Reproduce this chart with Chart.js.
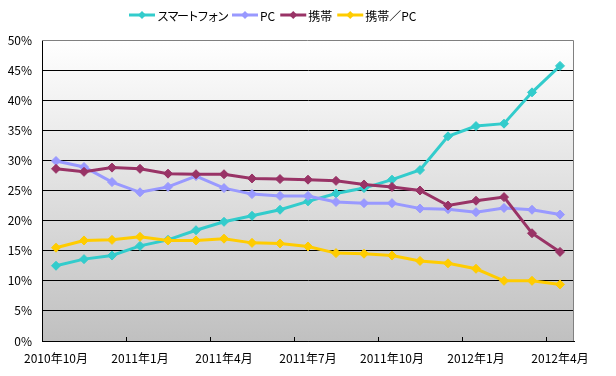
<!DOCTYPE html>
<html lang="ja">
<head>
<meta charset="UTF-8">
<title>スマートフォン・PC・携帯</title>
<script src="https://cdn.jsdelivr.net/npm/chart.js"></script>
<style>
  html, body { margin: 0; padding: 0; background: #fff; }
  .wrap { width: 616px; height: 376px; }
</style>
</head>
<body>
<div class="wrap"><canvas id="chart" width="616" height="376"></canvas></div>
<script>
// months, 2010/10 .. 2012/4
const months = [
  '2010年10月', '2010年11月', '2010年12月',
  '2011年1月', '2011年2月', '2011年3月', '2011年4月', '2011年5月', '2011年6月',
  '2011年7月', '2011年8月', '2011年9月', '2011年10月', '2011年11月', '2011年12月',
  '2012年1月', '2012年2月', '2012年3月', '2012年4月'
];

// percentages
const smartphone = [12.5, 13.6, 14.2, 15.8, 16.8, 18.4, 19.8, 20.8, 21.8, 23.2, 24.5, 25.4, 26.8, 28.4, 34.0, 35.7, 36.1, 41.3, 45.7];
const pc         = [29.9, 28.9, 26.4, 24.7, 25.6, 27.4, 25.4, 24.4, 24.1, 24.1, 23.1, 22.9, 22.9, 22.0, 21.9, 21.4, 22.1, 21.8, 21.0];
const keitai     = [28.6, 28.1, 28.8, 28.6, 27.8, 27.7, 27.7, 27.0, 26.9, 26.8, 26.6, 26.0, 25.6, 25.0, 22.5, 23.3, 23.9, 17.9, 14.8];
const keitaiPc   = [15.5, 16.7, 16.8, 17.3, 16.7, 16.7, 17.0, 16.3, 16.2, 15.7, 14.6, 14.5, 14.2, 13.3, 12.9, 12.0, 10.0, 10.0, 9.4];

const seriesNames  = ['スマートフォン', 'PC', '携帯', '携帯／PC'];
const seriesColors = ['#33CCCC', '#9999FF', '#993366', '#FFCC00'];

const FONT = "'Noto Sans CJK JP', 'Liberation Sans', sans-serif";
Chart.defaults.font.family = FONT;
Chart.defaults.font.size = 12;
Chart.defaults.color = '#000';

function makeSet(i, data) {
  return {
    label: seriesNames[i],
    data: data,
    borderColor: seriesColors[i],
    backgroundColor: seriesColors[i],
    borderWidth: 3,
    pointStyle: 'rectRot',
    pointRadius: 4.5,
    pointBorderWidth: 1,
    tension: 0,
    order: 3 - i   // later series on top, like the original
  };
}

// plot background + frame + inner tick marks + legend
const frame = {
  id: 'frame',
  beforeDraw(chart) {
    const { ctx, chartArea: a } = chart;
    const g = ctx.createLinearGradient(0, a.top, 0, a.bottom);
    g.addColorStop(0, '#ffffff');
    g.addColorStop(1, '#c0c0c0');
    ctx.save();
    ctx.fillStyle = g;
    ctx.fillRect(a.left, a.top, a.right - a.left, a.bottom - a.top);
    ctx.restore();
  },
  afterDraw(chart) {
    const { ctx, chartArea: a } = chart;
    const x = chart.scales.x;
    ctx.save();
    ctx.strokeStyle = '#808080';
    ctx.lineWidth = 1;
    ctx.beginPath();
    ctx.moveTo(a.left, a.top + 0.5);
    ctx.lineTo(a.right - 0.5, a.top + 0.5);
    ctx.lineTo(a.right - 0.5, a.bottom);
    ctx.stroke();

    const half = (x.getPixelForValue(1) - x.getPixelForValue(0)) / 2;
    ctx.strokeStyle = '#000';
    ctx.beginPath();
    for (let i = 3; i < months.length; i += 3) {
      const px = Math.round(x.getPixelForValue(i) - half) + 0.5;
      ctx.moveTo(px, a.bottom);
      ctx.lineTo(px, a.bottom - 4);
    }
    ctx.stroke();

    // legend
    ctx.font = '12px ' + FONT;
    ctx.textBaseline = 'middle';
    ctx.textAlign = 'left';
    let lx = 129;
    const ly = 15;
    seriesNames.forEach((name, i) => {
      ctx.strokeStyle = seriesColors[i];
      ctx.fillStyle = seriesColors[i];
      ctx.lineWidth = 3;
      ctx.beginPath();
      ctx.moveTo(lx, ly);
      ctx.lineTo(lx + 26, ly);
      ctx.stroke();
      const cx = lx + 13;
      ctx.beginPath();
      ctx.moveTo(cx, ly - 4);
      ctx.lineTo(cx + 4, ly);
      ctx.lineTo(cx, ly + 4);
      ctx.lineTo(cx - 4, ly);
      ctx.closePath();
      ctx.fill();
      ctx.fillStyle = '#000';
      // kana in the original font run narrower
      ctx.letterSpacing = i === 0 ? '-2px' : '0px';
      ctx.fillText(name, lx + 28, ly + 1);
      lx += 28 + ctx.measureText(name).width + 5;
    });
    ctx.restore();
  }
};

new Chart(document.getElementById('chart'), {
  type: 'line',
  data: {
    labels: months,
    datasets: [
      makeSet(0, smartphone),
      makeSet(1, pc),
      makeSet(2, keitai),
      makeSet(3, keitaiPc)
    ]
  },
  options: {
    responsive: false,
    animation: false,
    devicePixelRatio: 1,
    layout: { padding: { top: 40, left: 0, right: 42, bottom: 0 } },
    plugins: {
      legend: { display: false },
      tooltip: { enabled: false }
    },
    scales: {
      x: {
        type: 'category',
        offset: true,
        afterFit: s => { s.height = 35; },
        grid: { display: true, drawOnChartArea: false, drawTicks: false },
        border: { color: '#000', width: 1 },
        ticks: {
          autoSkip: false,
          maxRotation: 0,
          padding: 10,
          callback: (v, i) => (i % 3 === 0 ? months[i] : '')
        }
      },
      y: {
        min: 0,
        max: 50,
        afterFit: s => { s.width = 42; },
        grid: {
          drawTicks: false,
          color: c => (c.tick && c.tick.value === 50 ? 'rgba(0,0,0,0)' : '#000'),
          lineWidth: 1
        },
        border: { color: '#000', width: 1 },
        ticks: {
          stepSize: 5,
          padding: 10,
          callback: v => v + '%'
        }
      }
    }
  },
  plugins: [frame]
});
</script>
</body>
</html>
